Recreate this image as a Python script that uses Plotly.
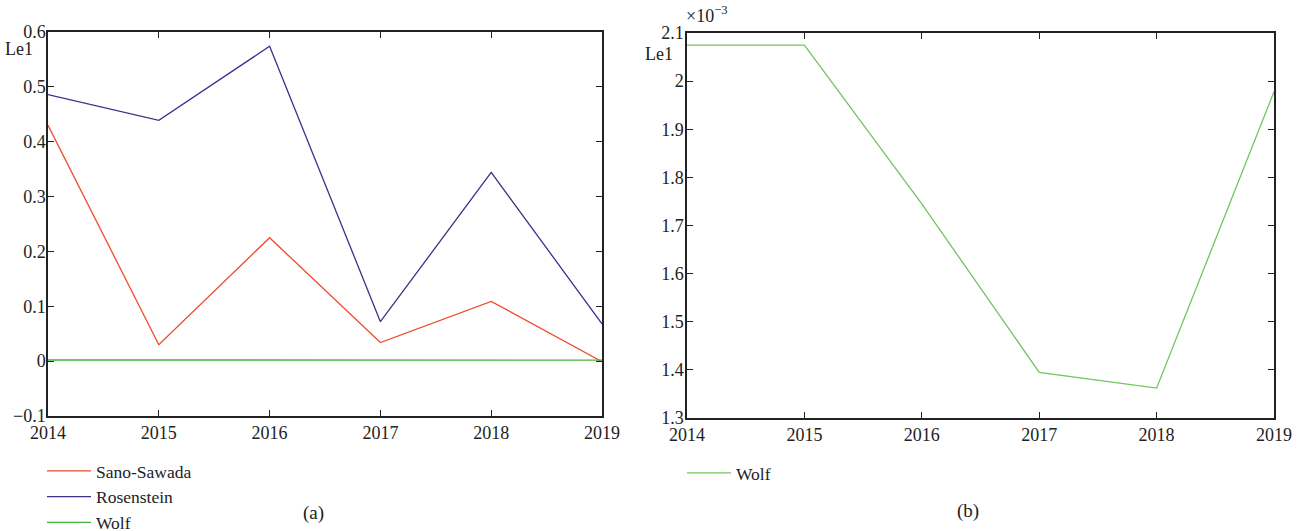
import plotly.graph_objects as go

years = [2014, 2015, 2016, 2017, 2018, 2019]
sano_sawada = [0.430, 0.030, 0.225, 0.034, 0.109, -0.001]
rosenstein = [0.486, 0.439, 0.574, 0.072, 0.344, 0.068]
wolf = [2.075e-3, 2.075e-3, 1.745e-3, 1.395e-3, 1.362e-3, 1.978e-3]

left_ticks = [-0.1, 0, 0.1, 0.2, 0.3, 0.4, 0.5, 0.6]
left_ticktext = ["\u22120.1", "0", "0.1", "0.2", "0.3", "0.4", "0.5", "0.6"]
right_ticks = [1.3e-3, 1.4e-3, 1.5e-3, 1.6e-3, 1.7e-3, 1.8e-3, 1.9e-3, 2.0e-3, 2.1e-3]
right_ticktext = ["1.3", "1.4", "1.5", "1.6", "1.7", "1.8", "1.9", "2", "2.1"]

W, H = 1301, 531
FONT = "Liberation Serif, Times New Roman, serif"
INK = "#222"

RED = "#ee4a2c"
BLUE = "#37338c"
GREEN = "#45b53c"
GREEN_LIGHT = "#72c45f"

fig = go.Figure()
fig.add_trace(go.Scatter(x=years, y=sano_sawada, mode="lines", name="Sano-Sawada",
                         line=dict(color=RED, width=1.3), xaxis="x", yaxis="y", legend="legend"))
fig.add_trace(go.Scatter(x=years, y=rosenstein, mode="lines", name="Rosenstein",
                         line=dict(color=BLUE, width=1.3), xaxis="x", yaxis="y", legend="legend"))
fig.add_trace(go.Scatter(x=years, y=wolf, mode="lines", name="Wolf",
                         line=dict(color=GREEN, width=1.3), xaxis="x", yaxis="y", legend="legend"))
fig.add_trace(go.Scatter(x=years, y=wolf, mode="lines", name="Wolf",
                         line=dict(color=GREEN_LIGHT, width=1.3), xaxis="x2", yaxis="y2", legend="legend2"))

axis_common = dict(showgrid=False, zeroline=False, showline=True, linecolor=INK, linewidth=1.5,
                   mirror="allticks", ticks="inside", ticklen=6, tickwidth=1.2, tickcolor=INK,
                   automargin=False, tickfont=dict(family=FONT, size=18, color=INK))


def px_x(p):
    return p / W


def px_y(p):
    return 1 - p / H


LEGEND_FONT = dict(family=FONT, size=17.5, color=INK)

fig.update_layout(
    width=W, height=H,
    margin=dict(l=0, r=0, t=0, b=0, autoexpand=False),
    paper_bgcolor="white", plot_bgcolor="white",
    font=dict(family=FONT, size=18, color=INK),
    xaxis=dict(domain=[px_x(48), px_x(602)], range=[2014, 2019], tickvals=years,
               anchor="y", **axis_common),
    yaxis=dict(domain=[px_y(416), px_y(32)], range=[-0.1, 0.6], tickvals=left_ticks,
               ticktext=left_ticktext, anchor="x", ticklabelstandoff=-3, **axis_common),
    xaxis2=dict(domain=[px_x(687), px_x(1274)], range=[2014, 2019], tickvals=years,
                anchor="y2", **axis_common),
    yaxis2=dict(domain=[px_y(418), px_y(33)], range=[1.3e-3, 2.1e-3], tickvals=right_ticks,
                ticktext=right_ticktext, anchor="x2", ticklabelstandoff=-2, **axis_common),
    legend=dict(x=px_x(42), y=px_y(453), xanchor="left", yanchor="top",
                font=LEGEND_FONT, bgcolor="rgba(0,0,0,0)", tracegroupgap=0, itemwidth=44),
    legend2=dict(x=px_x(682), y=px_y(455), xanchor="left", yanchor="top",
                 font=LEGEND_FONT, bgcolor="rgba(0,0,0,0)", itemwidth=44),
    showlegend=True,
)

annotations = [
    dict(text="Le1", x=px_x(35), y=px_y(49), xanchor="right", yanchor="middle"),
    dict(text="Le1", x=px_x(675), y=px_y(54), xanchor="right", yanchor="middle"),
    dict(text="\u00d710<sup>\u22123</sup>", x=px_x(684), y=px_y(15), xanchor="left", yanchor="middle"),
    dict(text="(a)", x=px_x(313), y=px_y(513), xanchor="center", yanchor="middle", font=dict(size=19)),
    dict(text="(b)", x=px_x(968), y=px_y(511), xanchor="center", yanchor="middle", font=dict(size=19)),
]
for a in annotations:
    a.setdefault("font", dict(size=18))
    a["font"].update(family=FONT, color=INK)
    fig.add_annotation(xref="paper", yref="paper", showarrow=False, **a)

fig.write_html("out.html")
